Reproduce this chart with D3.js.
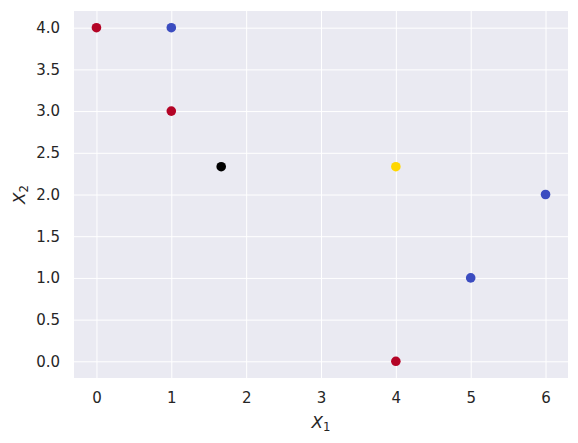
<!DOCTYPE html>
<html>
<head>
<meta charset="utf-8">
<script src="https://cdn.jsdelivr.net/npm/d3@7"></script>
<style>
  body { margin: 0; background: #fff; }
  svg { display: block; font-family: "DejaVu Sans", sans-serif; }
  .axis text { fill: #262626; font-size: 15px; font-family: "DejaVu Sans", sans-serif; }
</style>
</head>
<body>
<svg id="chart"></svg>
<script>
// points: x1, x2, colour group
const xs     = [0, 1, 1, 1.6667, 4, 6, 5, 4];
const ys     = [4, 4, 3, 2.3333, 2.3333, 2, 1, 0];
const groups = ['red', 'blue', 'red', 'centroid', 'new', 'blue', 'blue', 'red'];

const xTicks = [0, 1, 2, 3, 4, 5, 6];
const yTicks = [0, 0.5, 1, 1.5, 2, 2.5, 3, 3.5, 4];

const colours = { red: '#b40426', blue: '#3b4cc0', centroid: '#000000', new: '#ffd700' };

const W = 578, H = 443;
const m = { top: 11, right: 10, bottom: 65, left: 74 };
const iW = W - m.left - m.right;
const iH = H - m.top - m.bottom;

const svg = d3.select('#chart').attr('width', W).attr('height', H);
const g = svg.append('g').attr('transform', `translate(${m.left},${m.top})`);

const x = d3.scaleLinear().domain([-0.3, 6.3]).range([0, iW]);
const y = d3.scaleLinear().domain([-0.2, 4.2]).range([iH, 0]);

g.append('rect').attr('width', iW).attr('height', iH).attr('fill', '#eaeaf2');

// X axis with grid
g.append('g')
  .attr('class', 'axis')
  .attr('transform', `translate(0,${iH})`)
  .call(d3.axisBottom(x).tickValues(xTicks).tickFormat(d3.format('d')).tickSize(-iH).tickPadding(14))
  .call(ax => {
    ax.select('.domain').remove();
    ax.selectAll('.tick line').attr('stroke', '#fff').attr('stroke-width', 1);
  });

// Y axis with grid
g.append('g')
  .attr('class', 'axis')
  .call(d3.axisLeft(y).tickValues(yTicks).tickFormat(d3.format('.1f')).tickSize(-iW).tickPadding(14))
  .call(ax => {
    ax.select('.domain').remove();
    ax.selectAll('.tick line').attr('stroke', '#fff').attr('stroke-width', 1);
  });

// Points
g.selectAll('.pt')
  .data(xs.map((v, i) => ({ x: v, y: ys[i], grp: groups[i] })))
  .join('circle')
    .attr('class', 'pt')
    .attr('cx', d => x(d.x))
    .attr('cy', d => y(d.y))
    .attr('r', 4.8)
    .attr('fill', d => colours[d.grp]);

// Axis labels
const xl = svg.append('text')
  .attr('x', m.left + iW / 2)
  .attr('y', 428)
  .attr('text-anchor', 'middle')
  .attr('fill', '#262626')
  .style('font-size', '16.7px');
xl.append('tspan').attr('font-style', 'italic').text('X');
xl.append('tspan').attr('font-size', '11.7px').attr('dy', 3).text('1');

const yl = svg.append('text')
  .attr('transform', `translate(25,${m.top + iH / 2}) rotate(-90)`)
  .attr('text-anchor', 'middle')
  .attr('fill', '#262626')
  .style('font-size', '16.7px');
yl.append('tspan').attr('font-style', 'italic').text('X');
yl.append('tspan').attr('font-size', '11.7px').attr('dy', 3).text('2');
</script>
</body>
</html>
